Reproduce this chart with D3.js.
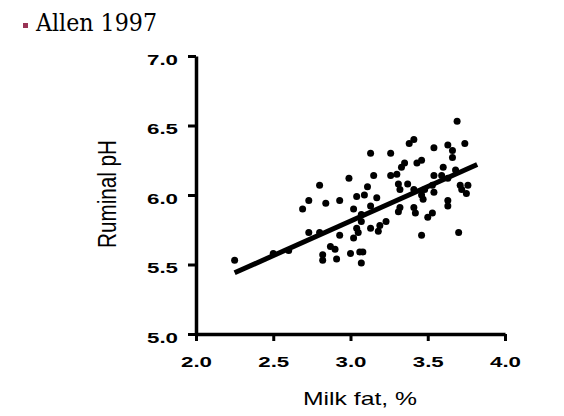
<!DOCTYPE html>
<html><head><meta charset="utf-8">
<script src="https://cdn.jsdelivr.net/npm/d3@7"></script>
<style>html,body{margin:0;padding:0;background:#fff;}svg{display:block;}</style>
</head><body>
<svg id="c" width="564" height="416"></svg>
<script>
const title = "Allen 1997";
const xLabel = "Milk fat, %";
const yLabel = "Ruminal pH";
const xTicks = [2.0, 2.5, 3.0, 3.5, 4.0];
const yTicks = [5.0, 5.5, 6.0, 6.5, 7.0];
const milkFat = [2.25,2.50,2.60,2.69,2.73,2.80,2.73,2.80,2.84,2.93,2.82,2.82,2.87,2.90,2.91,2.93,3.02,3.00,3.06,3.08,3.07,3.04,3.05,3.07,3.07,3.02,2.99,3.04,3.09,3.13,3.15,3.11,3.13,3.17,3.13,3.18,3.19,3.23,3.26,3.26,3.30,3.31,3.37,3.32,3.32,3.31,3.33,3.35,3.38,3.41,3.43,3.46,3.41,3.41,3.42,3.46,3.46,3.47,3.48,3.53,3.54,3.50,3.53,3.54,3.54,3.59,3.63,3.60,3.63,3.66,3.66,3.68,3.69,3.74,3.71,3.76,3.72,3.75,3.63,3.63,3.70];
const ruminalPH = [5.53,5.58,5.60,5.90,5.96,6.07,5.73,5.73,5.94,5.96,5.57,5.53,5.63,5.61,5.54,5.71,5.69,5.58,5.59,5.59,5.51,5.76,5.73,5.81,5.86,5.90,6.12,5.99,6.00,6.30,6.14,6.06,5.92,5.98,5.76,5.74,5.78,5.81,6.30,6.14,6.15,6.08,6.08,6.04,5.91,5.88,6.20,6.23,6.37,6.40,6.23,6.25,6.04,5.91,5.87,5.71,6.00,5.97,6.04,6.07,6.02,5.84,5.87,6.34,6.14,6.14,6.12,6.20,6.36,6.32,6.27,6.18,6.53,6.37,6.07,6.07,6.04,6.01,5.96,5.92,5.73];
const fitX = [2.25, 3.82];
const fitY = [5.44, 6.22];

const svg = d3.select("#c");
const x = d3.scaleLinear().domain([2.0, 4.0]).range([196, 505]);
const y = d3.scaleLinear().domain([5.0, 7.0]).range([334, 56]);
const sans = "'Liberation Sans', Arial, sans-serif";

// title with bullet
svg.append("rect").attr("x", 23).attr("y", 23).attr("width", 5).attr("height", 5).attr("fill", "#993355");
svg.append("text").attr("x", 36).attr("y", 31)
  .attr("font-family", "'DejaVu Serif', serif").attr("font-size", 25)
  .attr("textLength", 121).attr("lengthAdjust", "spacingAndGlyphs")
  .attr("fill", "#000").text(title);

// axes
const xAxis = d3.axisBottom(x).tickValues(xTicks).tickSize(7).tickSizeOuter(0).tickFormat(d3.format(".1f"));
const yAxis = d3.axisLeft(y).tickValues(yTicks).tickSize(8).tickSizeOuter(0).tickFormat(d3.format(".1f"));

const gx = svg.append("g").attr("transform", "translate(0,334)").call(xAxis);
const gy = svg.append("g").attr("transform", "translate(196,0)").call(yAxis);

[gx, gy].forEach(g => {
  g.select(".domain").attr("stroke", "#000").attr("stroke-width", 3.5);
  g.selectAll(".tick line").attr("stroke", "#000").attr("stroke-width", 3);
  g.selectAll(".tick text").attr("font-family", sans).attr("font-weight", "bold")
    .attr("font-size", 15).attr("fill", "#000")
    .attr("textLength", 31).attr("lengthAdjust", "spacingAndGlyphs");
});
gx.selectAll(".tick text").attr("y", 0).attr("dy", null).attr("transform", "translate(0,33)");
gy.selectAll(".tick text").attr("x", -18).attr("dy", "0.55em");

// axis labels
svg.append("text").attr("x", 360).attr("y", 405).attr("text-anchor", "middle")
  .attr("font-family", sans).attr("font-size", 19)
  .attr("textLength", 114).attr("lengthAdjust", "spacingAndGlyphs")
  .attr("fill", "#000").text(xLabel);
svg.append("text")
  .attr("transform", "translate(116,194) scale(1.25,1) rotate(-90)")
  .attr("text-anchor", "middle")
  .attr("font-family", sans).attr("font-size", 20)
  .attr("textLength", 108).attr("lengthAdjust", "spacingAndGlyphs")
  .attr("fill", "#000").text(yLabel);

// points
svg.append("g").selectAll("circle").data(milkFat.map((v, i) => [v, ruminalPH[i]]))
  .join("circle")
  .attr("cx", d => x(d[0])).attr("cy", d => y(d[1])).attr("r", 3.5).attr("fill", "#000");

// regression line
svg.append("line")
  .attr("x1", x(fitX[0])).attr("y1", y(fitY[0]))
  .attr("x2", x(fitX[1])).attr("y2", y(fitY[1]))
  .attr("stroke", "#000").attr("stroke-width", 5).attr("stroke-linecap", "butt");
</script>
</body></html>
